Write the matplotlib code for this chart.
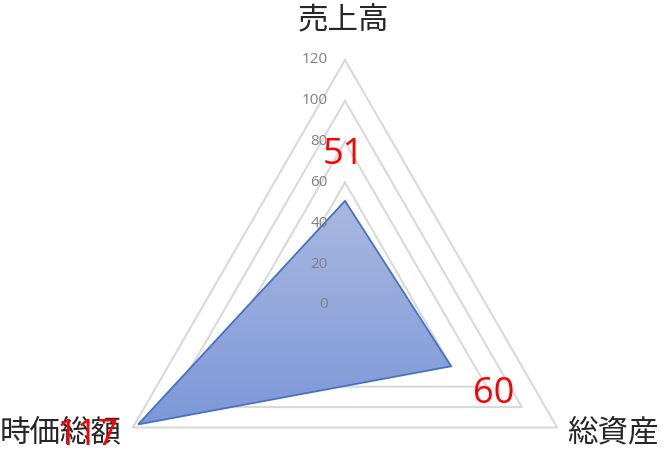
import numpy as np
import matplotlib
matplotlib.use("Agg")
import matplotlib.pyplot as plt
from matplotlib.patches import Polygon
from matplotlib.colors import LinearSegmentedColormap

categories = ["売上高", "総資産", "時価総額"]
values = [51, 60, 117]
ticks = [0, 20, 40, 60, 80, 100, 120]
rmax = 120

JP = ["Noto Sans CJK JP", "DejaVu Sans"]

W, H = 667, 454
fig = plt.figure(figsize=(W / 100, H / 100), dpi=100)
ax = fig.add_axes([0, 0, 1, 1])
ax.set_axis_off()

# pixel layout: center (345, 305), radius 245px for 120
scale = 245 / rmax
cx, cy = 345, 305
xl = (-cx / scale, (W - cx) / scale)
yl = (-(H - cy) / scale, cy / scale)

n = len(categories)
angles = np.deg2rad(90 - 360 / n * np.arange(n))

def pts(vals):
    vals = np.asarray(vals, dtype=float)
    return np.column_stack([vals * np.cos(angles), vals * np.sin(angles)])

# gridlines
for t in ticks[1:]:
    p = pts([t] * n)
    p = np.vstack([p, p[:1]])
    ax.plot(p[:, 0], p[:, 1], color="#d9d9d9", lw=1.5, zorder=1)

# data polygon with gradient
dp = pts(values)
poly = Polygon(dp, closed=True, facecolor="none", edgecolor="#4472C4", lw=1.3, zorder=4)
ax.add_patch(poly)
cmap = LinearSegmentedColormap.from_list("g", ["#7d98d8", "#a9b8e0"])
xmin, xmax = dp[:, 0].min(), dp[:, 0].max()
ymin, ymax = dp[:, 1].min(), dp[:, 1].max()
grad = np.linspace(0, 1, 256).reshape(-1, 1)
im = ax.imshow(grad, cmap=cmap, extent=[xmin, xmax, ymin, ymax], origin="lower",
               aspect="auto", zorder=3, interpolation="bilinear")
clip = Polygon(dp, closed=True, transform=ax.transData)
im.set_clip_path(clip)
ax.set_xlim(*xl)
ax.set_ylim(*yl)
ax.set_aspect("equal")

# tick labels
for t in ticks:
    ax.text(-8.5, t, str(t), ha="right", va="center", fontsize=11, color="#808080",
            family=["Open Sans", "DejaVu Sans"], zorder=5)

# category labels
cat_off = [(-1, 28), (40, -4), (-52, -4)]
vp = pts([rmax] * n)
for (x, y), lab, off in zip(vp, categories, cat_off):
    ax.annotate(lab, (x, y), xytext=off, textcoords="offset points", ha="center",
                va="center", fontsize=22, color="#262626", family=JP, zorder=6)

# data labels
lab_off = [(-1.4, 33), (31, -20), (-36, -8)]
for (x, y), v, off in zip(dp, values, lab_off):
    ax.annotate(str(v), (x, y), xytext=off, textcoords="offset points", ha="center",
                va="center", fontsize=26, color="#ff0000",
                family=["Open Sans", "DejaVu Sans"], zorder=7)

fig.savefig("out.png", dpi=100)
